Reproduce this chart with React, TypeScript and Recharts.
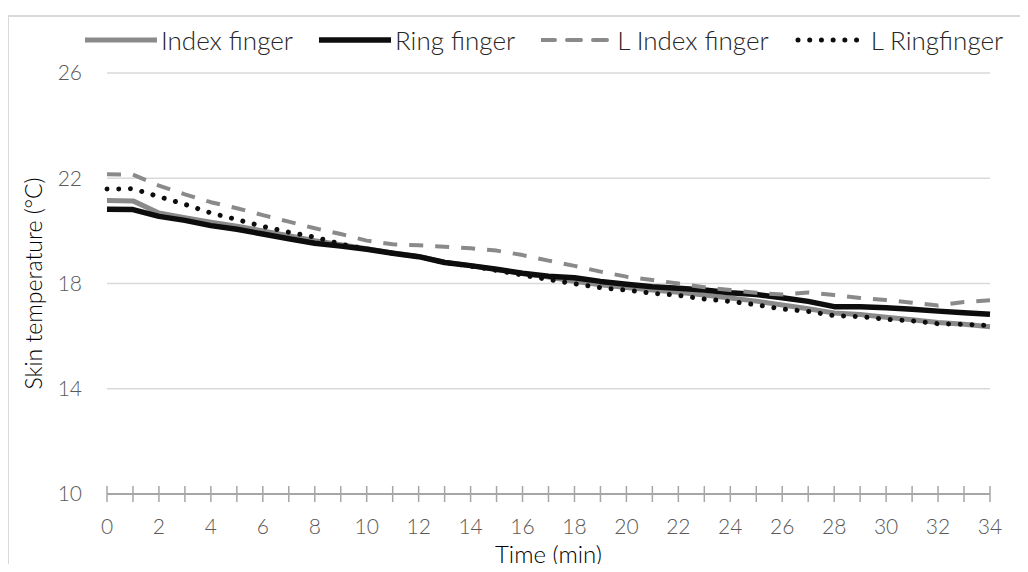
import { CartesianGrid, Label, Line, LineChart, XAxis, YAxis } from 'recharts'

// Skin temperature (°C) per minute of cooling, four fingers.
const minutes = [
  0, 1, 2, 3, 4, 5, 6, 7, 8, 9, 10, 11, 12, 13, 14, 15, 16, 17, 18, 19, 20, 21,
  22, 23, 24, 25, 26, 27, 28, 29, 30, 31, 32, 33, 34,
]
const indexFinger = [
  21.15, 21.14, 20.68, 20.5, 20.33, 20.18, 20.0, 19.82, 19.63, 19.47, 19.32,
  19.16, 19.03, 18.81, 18.68, 18.53, 18.38, 18.25, 18.08, 17.95, 17.85, 17.75,
  17.67, 17.56, 17.45, 17.33, 17.18, 17.04, 16.88, 16.82, 16.72, 16.62, 16.52,
  16.45, 16.36,
]
const ringFinger = [
  20.82, 20.81, 20.55, 20.4, 20.2, 20.06, 19.88, 19.7, 19.53, 19.42, 19.3,
  19.15, 19.02, 18.8, 18.68, 18.54, 18.39, 18.28, 18.22, 18.08, 17.97, 17.88,
  17.82, 17.75, 17.65, 17.58, 17.46, 17.32, 17.12, 17.12, 17.08, 17.02, 16.95,
  16.89, 16.83,
]
const lIndexFinger = [
  22.15, 22.14, 21.72, 21.39, 21.09, 20.86, 20.6, 20.35, 20.1, 19.88, 19.63,
  19.49, 19.45, 19.4, 19.34, 19.25, 19.08, 18.87, 18.67, 18.45, 18.26, 18.13,
  18.0, 17.86, 17.75, 17.65, 17.58, 17.66, 17.56, 17.45, 17.37, 17.27, 17.16,
  17.3, 17.36,
]
const lRingFinger = [
  21.59, 21.6, 21.3, 21.01, 20.68, 20.43, 20.17, 19.95, 19.76, 19.5, 19.3,
  19.15, 19.02, 18.8, 18.66, 18.5, 18.32, 18.15, 17.99, 17.84, 17.75, 17.63,
  17.55, 17.41, 17.32, 17.19, 17.03, 16.94, 16.78, 16.74, 16.64, 16.58, 16.47,
  16.45, 16.4,
]

const xTicks = [
  0, 1, 2, 3, 4, 5, 6, 7, 8, 9, 10, 11, 12, 13, 14, 15, 16, 17, 18, 19, 20, 21,
  22, 23, 24, 25, 26, 27, 28, 29, 30, 31, 32, 33, 34,
]
const xLabels = [0, 2, 4, 6, 8, 10, 12, 14, 16, 18, 20, 22, 24, 26, 28, 30, 32, 34]
const yTicks = [10, 14, 18, 22, 26]

const data = minutes.map((minute, i) => ({
  minute,
  index: indexFinger[i],
  ring: ringFinger[i],
  lIndex: lIndexFinger[i],
  lRing: lRingFinger[i],
}))

const FONT = 'Lato, "Open Sans", sans-serif'
const AXIS_GRAY = '#a6a6a6'
const TICK_TEXT = '#595959'

interface SeriesStyle {
  key: string
  name: string
  color: string
  width: number
  dash?: string
  cap: 'butt' | 'round'
}

const series: SeriesStyle[] = [
  { key: 'index', name: 'Index finger', color: '#8a8a8a', width: 5, cap: 'butt' },
  { key: 'ring', name: 'Ring finger', color: '#0d0d0d', width: 5.5, cap: 'butt' },
  { key: 'lIndex', name: 'L Index finger', color: '#8a8a8a', width: 4, dash: '14 12', cap: 'butt' },
  { key: 'lRing', name: 'L Ringfinger', color: '#0d0d0d', width: 5, dash: '0.01 11.7', cap: 'round' },
]

// Minor tick at every minute, crossing the axis; a label every two minutes.
function TimeTick({ x, y, payload }: any) {
  return (
    <g>
      <line x1={x} x2={x} y1={y - 8} y2={y + 8} stroke={AXIS_GRAY} strokeWidth={1.5} />
      {xLabels.includes(payload.value) && (
        <text x={x} y={y + 40} textAnchor="middle" fill={TICK_TEXT} fontSize={21} fontWeight={300} fontFamily={FONT}>
          {payload.value}
        </text>
      )}
    </g>
  )
}

function LegendRow() {
  return (
    <div
      style={{
        position: 'absolute',
        left: 85,
        top: 24,
        display: 'flex',
        gap: 26,
        alignItems: 'center',
        fontFamily: FONT,
        fontWeight: 300,
        fontSize: 26,
        color: '#262626',
        whiteSpace: 'nowrap',
      }}
    >
      {series.map((s) => (
        <div key={s.key} style={{ display: 'flex', alignItems: 'center', gap: 4 }}>
          <svg width={72} height={12}>
            <line
              x1={s.cap === 'round' ? 3 : 0}
              x2={72}
              y1={6}
              y2={6}
              stroke={s.color}
              strokeWidth={s.width}
              strokeDasharray={s.dash}
              strokeLinecap="round"
            />
          </svg>
          <span>{s.name}</span>
        </div>
      ))}
    </div>
  )
}

export default function App() {
  return (
    <div style={{ position: 'relative', width: 1028, height: 572, margin: -8, overflow: 'hidden', background: '#fff' }}>
      <div
        style={{
          position: 'absolute',
          left: 7,
          top: 15,
          width: 1100,
          height: 700,
          border: '2px solid #d9d9d9',
        }}
      />
      <LegendRow />
      <div style={{ position: 'absolute', left: 0, top: 0 }}>
        <LineChart width={1028} height={572} data={data} margin={{ top: 73, right: 38, bottom: 0, left: 0 }}>
          <CartesianGrid vertical={false} stroke="#d9d9d9" strokeWidth={1.5} />
          <XAxis
            dataKey="minute"
            type="number"
            domain={[0, 34]}
            ticks={xTicks}
            interval={0}
            tickSize={0}
            tickMargin={0}
            tickLine={false}
            tick={<TimeTick />}
            axisLine={{ stroke: AXIS_GRAY, strokeWidth: 2 }}
            height={78}
          >
            <Label
              content={({ viewBox }: any) => (
                <text
                  x={viewBox.x + viewBox.width / 2}
                  y={563}
                  textAnchor="middle"
                  fill="#000"
                  fontSize={24}
                  fontWeight={300}
                  fontFamily={FONT}
                >
                  Time (min)
                </text>
              )}
            />
          </XAxis>
          <YAxis
            width={107}
            domain={[10, 26]}
            ticks={yTicks}
            axisLine={false}
            tickLine={false}
            tickSize={0}
            tickMargin={25}
            tick={{ fill: TICK_TEXT, fontSize: 21, fontWeight: 300, fontFamily: FONT }}
          >
            <Label
              content={({ viewBox }: any) => {
                const cx = 33
                const cy = viewBox.y + viewBox.height / 2
                return (
                  <text
                    x={cx}
                    y={cy}
                    transform={`rotate(-90, ${cx}, ${cy})`}
                    textAnchor="middle"
                    dominantBaseline="central"
                    fill="#000"
                    fontSize={23}
                    fontWeight={300}
                    fontFamily={FONT}
                  >
                    Skin temperature (°C)
                  </text>
                )
              }}
            />
          </YAxis>
          {series.map((s) => (
            <Line
              key={s.key}
              dataKey={s.key}
              name={s.name}
              type="linear"
              stroke={s.color}
              strokeWidth={s.width}
              strokeDasharray={s.dash}
              strokeLinecap={s.cap}
              strokeLinejoin="round"
              dot={false}
              activeDot={false}
              isAnimationActive={false}
            />
          ))}
        </LineChart>
      </div>
    </div>
  )
}
